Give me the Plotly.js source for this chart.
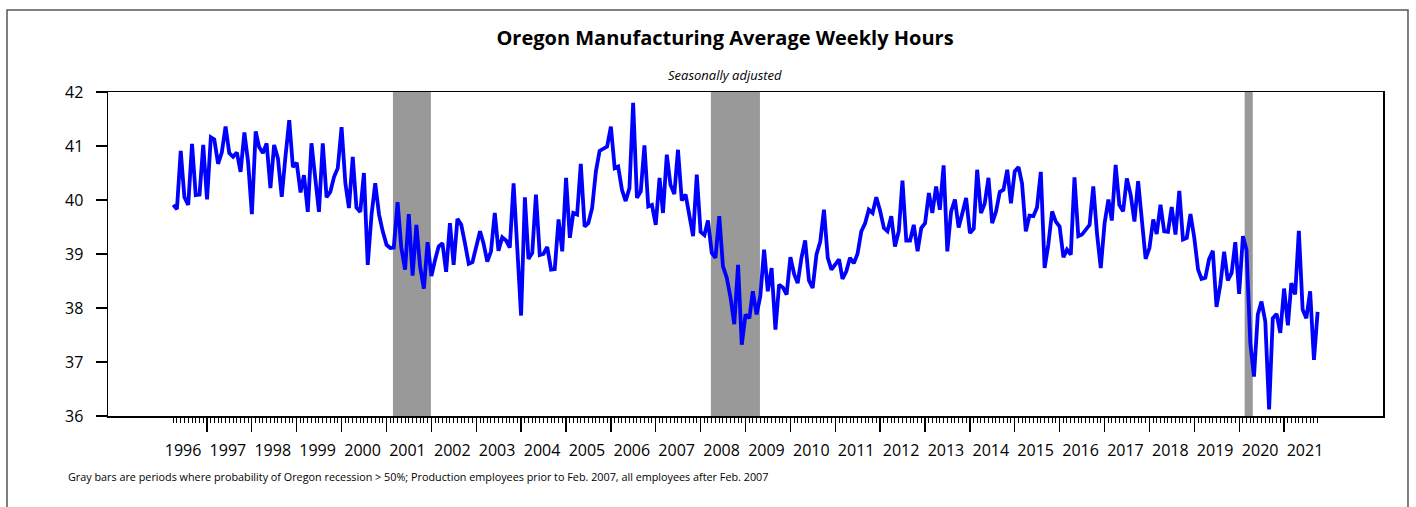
<!DOCTYPE html>
<html>
<head>
<meta charset="utf-8">
<script src="https://cdn.plot.ly/plotly-3.0.1.min.js"></script>
<style>
html, body { margin: 0; padding: 0; background: #ffffff; }
#chart { width: 1416px; height: 507px; }
</style>
</head>
<body>
<div id="chart"></div>
<script>
const chartTitle = 'Oregon Manufacturing Average Weekly Hours';
const subtitle = 'Seasonally adjusted';
const footnote = 'Gray bars are periods where probability of Oregon recession > 50%; Production employees prior to Feb. 2007, all employees after Feb. 2007';

// Monthly series, first value = April 1996
const startYear = 1996;
const startMonth = 4;
const hours = [
  // 1996 Apr-Dec
  39.91, 39.83, 40.91, 40.05, 39.91, 41.04, 40.09, 40.10, 41.02,
  // 1997
  40.01, 41.16, 41.12, 40.67, 40.88, 41.36, 40.87, 40.80, 40.88, 40.52, 41.25, 40.71,
  // 1998
  39.74, 41.27, 40.98, 40.87, 41.05, 40.22, 41.02, 40.77, 40.06, 40.80, 41.48, 40.61,
  // 1999
  40.69, 40.14, 40.46, 39.78, 41.05, 40.40, 39.78, 41.05, 40.05, 40.15, 40.43, 40.59,
  // 2000
  41.35, 40.31, 39.85, 40.80, 39.86, 39.78, 40.50, 38.80, 39.73, 40.31, 39.73, 39.42,
  // 2001
  39.17, 39.11, 39.12, 39.96, 39.12, 38.71, 39.74, 38.60, 39.54, 38.77, 38.36, 39.22,
  // 2002
  38.59, 38.90, 39.14, 39.20, 38.67, 39.57, 38.80, 39.65, 39.54, 39.20, 38.82, 38.85,
  // 2003
  39.11, 39.42, 39.20, 38.86, 39.05, 39.76, 39.06, 39.31, 39.25, 39.12, 40.31, 39.10,
  // 2004
  37.86, 40.05, 38.91, 39.02, 40.10, 38.98, 39.00, 39.13, 38.71, 38.72, 39.64, 39.05,
  // 2005
  40.41, 39.30, 39.76, 39.73, 40.67, 39.51, 39.57, 39.85, 40.53, 40.91, 40.96, 40.99,
  // 2006
  41.36, 40.59, 40.62, 40.19, 39.98, 40.22, 41.80, 40.04, 40.16, 41.01, 39.88, 39.91,
  // 2007
  39.54, 40.41, 39.76, 40.84, 40.28, 40.11, 40.93, 39.99, 40.10, 39.70, 39.33, 40.47,
  // 2008
  39.41, 39.35, 39.62, 39.02, 38.93, 39.70, 38.77, 38.56, 38.19, 37.70, 38.80, 37.32,
  // 2009
  37.88, 37.81, 38.31, 37.88, 38.22, 39.08, 38.31, 38.74, 37.60, 38.43, 38.38, 38.25,
  // 2010
  38.94, 38.62, 38.46, 38.93, 39.25, 38.51, 38.37, 38.99, 39.23, 39.82, 38.93, 38.71,
  // 2011
  38.80, 38.90, 38.54, 38.68, 38.93, 38.83, 39.00, 39.42, 39.57, 39.82, 39.76, 40.05,
  // 2012
  39.80, 39.48, 39.42, 39.70, 39.14, 39.42, 40.36, 39.25, 39.25, 39.54, 39.05, 39.48,
  // 2013
  39.57, 40.13, 39.76, 40.25, 39.82, 40.64, 39.05, 39.79, 40.01, 39.49, 39.76, 40.04,
  // 2014
  39.39, 39.47, 40.56, 39.76, 39.93, 40.41, 39.57, 39.78, 40.15, 40.19, 40.56, 39.94,
  // 2015
  40.53, 40.61, 40.31, 39.42, 39.71, 39.70, 39.86, 40.52, 38.74, 39.17, 39.79, 39.60,
  // 2016
  39.51, 38.94, 39.08, 38.99, 40.42, 39.33, 39.36, 39.45, 39.54, 40.25, 39.36, 38.74,
  // 2017
  39.57, 40.01, 39.62, 40.65, 39.91, 39.79, 40.40, 40.10, 39.60, 40.35, 39.60, 38.91,
  // 2018
  39.11, 39.64, 39.37, 39.91, 39.42, 39.41, 39.87, 39.36, 40.17, 39.27, 39.30, 39.74,
  // 2019
  39.30, 38.71, 38.54, 38.56, 38.90, 39.06, 38.02, 38.43, 39.04, 38.51, 38.65, 39.22,
  // 2020
  38.26, 39.33, 39.08, 37.35, 36.73, 37.88, 38.12, 37.75, 36.12, 37.81, 37.89, 37.54,
  // 2021 Jan-Oct
  38.36, 37.68, 38.46, 38.25, 39.43, 37.97, 37.81, 38.31, 37.04, 37.93
];

const yearLabels = ['1996','1997','1998','1999','2000','2001','2002','2003','2004','2005','2006','2007','2008',
  '2009','2010','2011','2012','2013','2014','2015','2016','2017','2018','2019','2020','2021'];
const yTicks = [36, 37, 38, 39, 40, 41, 42];

// Periods where probability of Oregon recession > 50%
const recessionStart = ['2001-02-22', '2008-03-25', '2020-02-15'];
const recessionEnd   = ['2001-12-28', '2009-04-28', '2020-04-21'];

const xRange = ['1994-10-18', '2023-03-17'];
const fontFamily = '"Open Sans", "DejaVu Sans", sans-serif';

function monthDate(i) {
  const total = startMonth - 1 + i;
  const y = startYear + Math.floor(total / 12);
  const m = total % 12 + 1;
  return y + '-' + String(m).padStart(2, '0') + '-01';
}
const dates = hours.map((_, i) => monthDate(i));
// Major ticks at year boundaries inside the data span
const yearTickDates = yearLabels.map(y => y + '-01-01').filter(d => d > dates[0] && d <= dates[dates.length - 1]);
// Year labels sit near the middle of each year
const yearLabelDates = yearLabels.map(y => y + '-06-20');

const traces = [
  {
    x: dates, y: hours, xaxis: 'x2', yaxis: 'y',
    mode: 'lines', line: { width: 0, color: 'rgba(0,0,0,0)' },
    opacity: 0, hoverinfo: 'skip', showlegend: false
  },
  {
    x: dates, y: hours, xaxis: 'x', yaxis: 'y',
    type: 'scatter', mode: 'lines',
    line: { color: '#0000ff', width: 3.8 },
    name: 'Average weekly hours', showlegend: false
  }
];

const shapes = recessionStart.map((s, i) => ({
  type: 'rect', xref: 'x', yref: 'paper',
  x0: s, x1: recessionEnd[i], y0: 0, y1: 1,
  fillcolor: '#999999', line: { width: 0 }, layer: 'below'
}));
// outer frame of the figure
shapes.push({
  type: 'rect', xref: 'paper', yref: 'paper',
  x0: -0.0792, x1: 1.0196, y0: -0.4, y1: 1.2531,
  line: { color: '#555555', width: 1.5 }, fillcolor: 'rgba(0,0,0,0)', layer: 'above'
});

const layout = {
  width: 1416, height: 507,
  margin: { l: 108, r: 33, t: 92, b: 91 },
  paper_bgcolor: '#ffffff', plot_bgcolor: '#ffffff',
  font: { family: fontFamily, color: '#000000' },
  showlegend: false,
  title: {
    text: '<b>' + chartTitle + '</b>',
    font: { size: 20, family: fontFamily, color: '#000000' },
    x: 725 / 1416, xref: 'container', xanchor: 'center',
    y: 1 - 38 / 507, yref: 'container', yanchor: 'middle'
  },
  xaxis: {
    type: 'date', range: xRange,
    tickmode: 'array', tickvals: yearLabelDates, ticktext: yearLabels,
    ticks: '', showline: true, linecolor: '#000000', linewidth: 1.5, mirror: true,
    showgrid: false, zeroline: false,
    tickfont: { size: 16, family: fontFamily, color: '#000000' },
    ticklabelstandoff: 19
  },
  xaxis2: {
    type: 'date', range: xRange, overlaying: 'x', anchor: 'y', side: 'bottom',
    tickmode: 'array', tickvals: yearTickDates,
    ticks: 'outside', ticklen: 15, tickwidth: 1.2, tickcolor: '#000000',
    showticklabels: false, showline: false, showgrid: false, zeroline: false,
    minor: {
      tickmode: 'array', tickvals: dates,
      ticks: 'outside', ticklen: 6, tickwidth: 1, tickcolor: '#000000', showgrid: false
    }
  },
  yaxis: {
    range: [36, 42], tickmode: 'array', tickvals: yTicks,
    ticks: 'outside', ticklen: 11, tickwidth: 1.5, tickcolor: '#000000',
    showline: true, linecolor: '#000000', linewidth: 1.5, mirror: true,
    showgrid: false, zeroline: false,
    tickfont: { size: 16, family: fontFamily, color: '#000000' },
    ticklabelstandoff: 9
  },
  shapes: shapes,
  annotations: [
    {
      text: '<i>' + subtitle + '</i>', xref: 'paper', yref: 'paper',
      x: (725 - 108) / 1275, y: (416 - 75) / 324, xanchor: 'center', yanchor: 'middle',
      showarrow: false, font: { size: 13, family: fontFamily, color: '#000000' }
    },
    {
      text: footnote, xref: 'paper', yref: 'paper',
      x: (66 - 108) / 1275, y: (416 - 476) / 324, xanchor: 'left', yanchor: 'middle',
      showarrow: false, font: { size: 10.8, family: fontFamily, color: '#000000' }
    }
  ]
};

Plotly.newPlot('chart', traces, layout, { displayModeBar: false, staticPlot: true });
</script>
</body>
</html>
